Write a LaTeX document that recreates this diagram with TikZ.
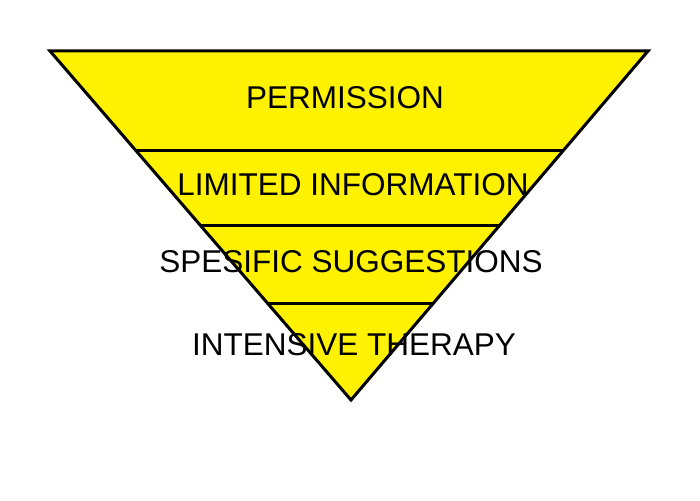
\documentclass[tikz,border=0pt]{standalone}
\usepackage{fontspec}
\setmainfont{Liberation Sans}
\usetikzlibrary{calc}

\begin{document}
\begin{tikzpicture}[
		x=1pt, y=-1pt,
		% Style for the funnel body
		funnel/.style={fill=yellow, draw=black, line width=3pt, line join=miter},
		% Style for the level dividers
		divider/.style={draw=black, line width=3pt},
		% Style for the level captions
		level label/.style={font=\fontsize{31.5}{38}\selectfont, anchor=base, inner sep=0pt, text=black}
		]
		\useasboundingbox (0,0) rectangle (700,500);
		
		% ==============================================================================
		% 1. INVERTED TRIANGLE
		% ==============================================================================
		\coordinate (top-left) at (50,51);
		\coordinate (top-right) at (648,51);
		\coordinate (apex) at (351,400);
		\draw[funnel] (top-left) -- (top-right) -- (apex) -- cycle;
		
		% ==============================================================================
		% 2. LEVEL DIVIDERS
		% ==============================================================================
		\foreach \t [count=\i] in {0.2837, 0.5014, 0.7221} {
			\coordinate (left-\i) at ($(top-left)!\t!(apex)$);
			\coordinate (right-\i) at ($(top-right)!\t!(apex)$);
			\draw[divider] (left-\i) -- (right-\i);
		}
		
		% ==============================================================================
		% 3. LEVEL CAPTIONS
		% ==============================================================================
		\node[level label] (permission) at (345,109) {PERMISSION};
		\node[level label] (limited) at (353,195) {LIMITED INFORMATION};
		\node[level label] (specific) at (351,272) {SPESIFIC SUGGESTIONS};
		\node[level label] (intensive) at (354,355) {INTENSIVE THERAPY};
	\end{tikzpicture}
\end{document}
